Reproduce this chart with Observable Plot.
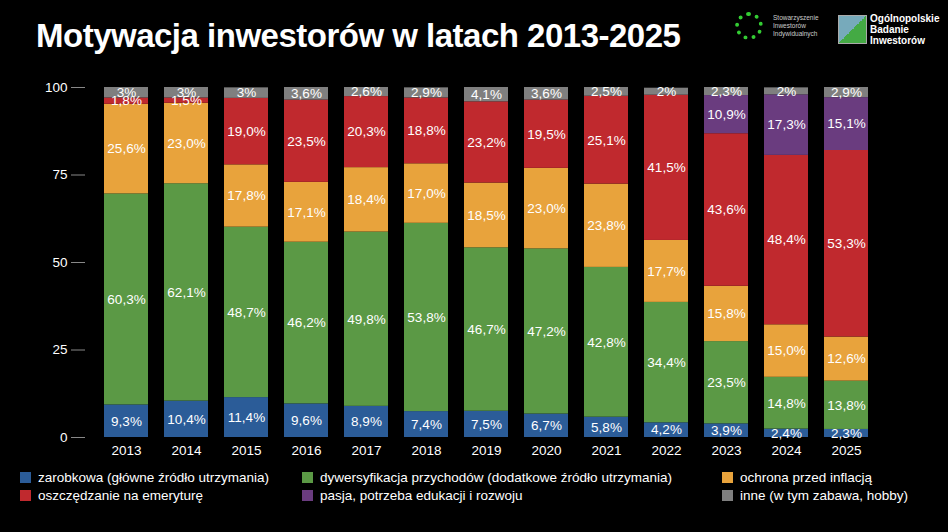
<!DOCTYPE html>
<html><head><meta charset="utf-8">
<script src="https://cdn.jsdelivr.net/npm/d3@7"></script>
<script src="https://cdn.jsdelivr.net/npm/@observablehq/plot@0.6"></script>
<style>
body{margin:0;background:#000;width:948px;height:532px;overflow:hidden;font-family:"Liberation Sans",Arial,sans-serif;color:#fff}
#head{height:70px;position:relative}
#title{position:absolute;left:36px;top:17px;font-size:33px;font-weight:bold;letter-spacing:-0.5px}
#logo1{position:absolute;left:735px;top:14px;font-size:6.5px;line-height:8px;color:#ccc;padding-left:38px}
#logo1 .c{position:absolute;left:0;top:-2px;width:28px;height:28px;border-radius:50%;border:4px dotted #3c3;box-sizing:border-box}
#logo2{position:absolute;left:838px;top:13px;font-size:10px;font-weight:bold;line-height:11px;padding-left:32px}
#logo2 .b{position:absolute;left:0;top:2px;width:27px;height:27px;background:linear-gradient(135deg,#7ab 0,#7ab 50%,#4a4 50%);border:1px solid #aaa}
#legend{display:grid;grid-template-columns:282px 420px 220px;padding-left:20px;margin-top:0px;font-size:13.5px;row-gap:3px}
.it{display:flex;align-items:center;gap:7px;white-space:nowrap}
.sw{width:11px;height:11px;display:inline-block}
</style></head><body>
<div id="head"><div id="title">Motywacja inwestorów w latach 2013-2025</div>
<div id="logo1"><span class="c"></span>Stowarzyszenie<br>Inwestorów<br>Indywidualnych</div>
<div id="logo2"><span class="b"></span>Ogólnopolskie<br>Badanie<br>Inwestorów</div></div>
<div id="chart"></div>
<div id="legend"></div>
<script>
const years=["2013","2014","2015","2016","2017","2018","2019","2020","2021","2022","2023","2024","2025"];
const categories=["zarobkowa (główne źródło utrzymania)","dywersyfikacja przychodów (dodatkowe źródło utrzymania)","ochrona przed inflacją","oszczędzanie na emeryturę","pasja, potrzeba edukacji i rozwoju","inne (w tym zabawa, hobby)"];
const colors=["#2b5c98","#5b9945","#e8a33c","#c0292e","#6a3c7f","#7f7f7f"];
const zarobkowa=[9.3,10.4,11.4,9.6,8.9,7.4,7.5,6.7,5.8,4.2,3.9,2.4,2.3];
const dywersyfikacja=[60.3,62.1,48.7,46.2,49.8,53.8,46.7,47.2,42.8,34.4,23.5,14.8,13.8];
const inflacja=[25.6,23.0,17.8,17.1,18.4,17.0,18.5,23.0,23.8,17.7,15.8,15.0,12.6];
const emerytura=[1.8,1.5,19.0,23.5,20.3,18.8,23.2,19.5,25.1,41.5,43.6,48.4,53.3];
const pasja=[0,0,0,0,0,0,0,0,0,0,10.9,17.3,15.1];
const inne=[3,3,3,3.6,2.6,2.9,4.1,3.6,2.5,2,2.3,2,2.9];
const series=[zarobkowa,dywersyfikacja,inflacja,emerytura,pasja,inne];
const yTicks=[0,25,50,75,100];
const data=[];
series.forEach((s,ci)=>s.forEach((v,yi)=>{if(v>0)data.push({year:years[yi],cat:categories[ci],ci,v})}));
const fmt=d=>((d.ci===5&&Number.isInteger(d.v))?String(d.v):d.v.toFixed(1).replace(".",","))+"%";
const chart=Plot.plot({
  width:948,height:400,marginTop:17,marginBottom:33,marginLeft:85,marginRight:62,
  style:{background:"#000",color:"#fff",fontSize:"13px",fontFamily:"Liberation Sans, Arial, sans-serif"},
  x:{domain:years,padding:0.27,label:null},
  y:{domain:[0,100],label:null},
  color:{domain:categories,range:colors},
  marks:[
    Plot.barY(data,{x:"year",y:"v",z:"ci",fill:"cat",order:"ci",clip:true}),
    Plot.text(data,Plot.stackY({x:"year",y:"v",z:"ci",order:"ci",text:fmt,fill:"#fff",fontSize:13.5})),
    Plot.axisY({ticks:yTicks,tickSize:14,tickPadding:4,fontSize:13.5,stroke:"#888"}),
    Plot.axisX({tickSize:0,tickPadding:8,fontSize:13.5})
  ]
});
document.getElementById("chart").appendChild(chart);
const lg=document.getElementById("legend");
categories.forEach((c,i)=>{const d=document.createElement("div");d.className="it";d.innerHTML=`<span class="sw" style="background:${colors[i]}"></span>${c}`;lg.appendChild(d);});
</script></body></html>
